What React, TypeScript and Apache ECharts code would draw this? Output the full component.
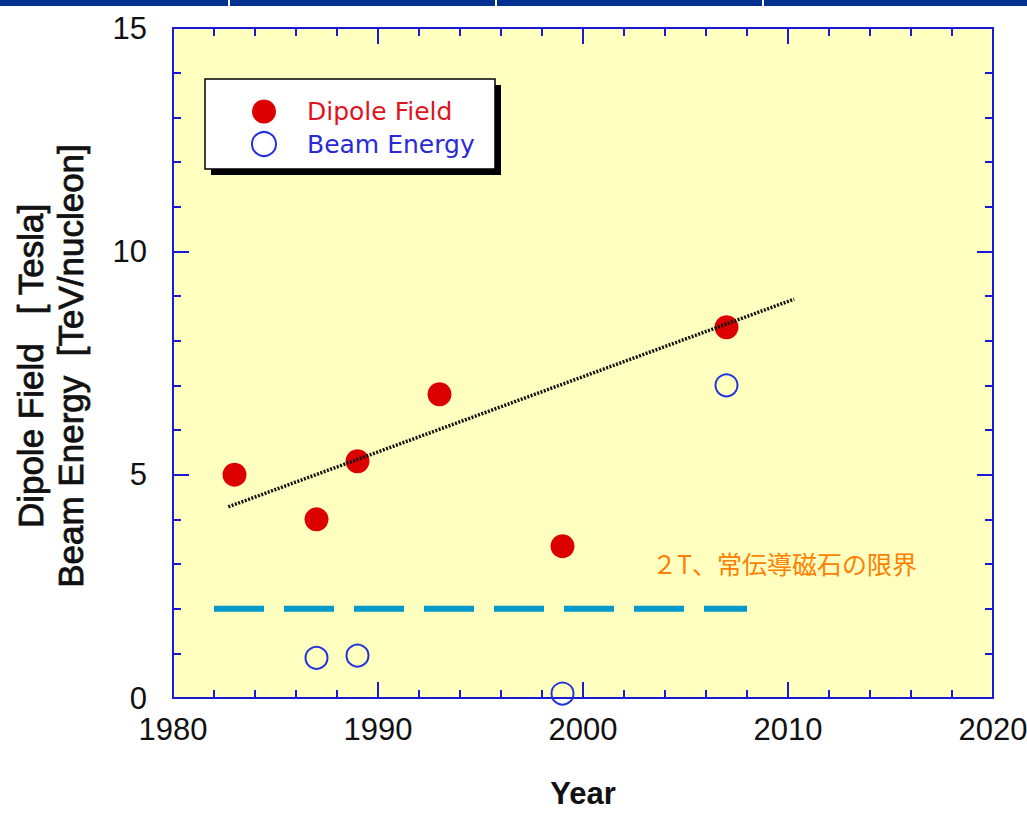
import React, { useEffect, useRef } from "react";
import * as echarts from "echarts";

const dipoleYears = [1983, 1987, 1989, 1993, 1999, 2007];
const dipoleField = [5.0, 4.0, 5.3, 6.8, 3.4, 8.3];
const beamYears = [1987, 1989, 1999, 2007];
const beamEnergy = [0.9, 0.95, 0.1, 7.0];
const trendYears = [1982.7, 2010.3];
const trendValues = [4.28, 8.93];
const limitYears = [1982, 2008];
const limitValues = [2, 2];
const xTicks = { min: 1980, max: 2020, interval: 10 };
const yTicks = { min: 0, max: 15, interval: 5 };
const yTitleLines = ["Dipole Field   [ Tesla]", "Beam Energy  [TeV/nucleon]"];
const annotation = "２T、常伝導磁石の限界";

const AXIS_BLUE = "#1a1ad6";
const LABEL_FONT = "'Liberation Sans', Arial, Helvetica, sans-serif";

function axisCommon(position: string, showLabel: boolean, margin: number) {
  return {
    position,
    axisLine: { show: true, onZero: false, lineStyle: { color: AXIS_BLUE, width: 2 } },
    axisTick: { show: true, inside: true, length: 16, lineStyle: { color: AXIS_BLUE, width: 2 } },
    minorTick: { show: true, splitNumber: 5, length: 8, lineStyle: { color: AXIS_BLUE, width: 2 } },
    splitLine: { show: false },
    minorSplitLine: { show: false },
    axisLabel: {
      show: showLabel,
      fontSize: 31,
      color: "#111",
      fontFamily: LABEL_FONT,
      margin,
      formatter: (v: number) => String(v),
    },
  };
}

export default function App() {
  const ref = useRef<HTMLDivElement>(null);

  useEffect(() => {
    if (!ref.current) return;
    const chart = echarts.init(ref.current, undefined, { renderer: "svg" });
    const zip = (a: number[], b: number[]) => a.map((v, i) => [v, b[i]]);

    const yTitle = (text: string, x: number) => ({
      type: "text",
      x,
      y: 366,
      rotation: Math.PI / 2,
      style: {
        text,
        fontSize: 35,
        fontFamily: LABEL_FONT,
        fill: "#111",
        stroke: "#111",
        lineWidth: 0.8,
        textAlign: "center",
        textVerticalAlign: "middle",
      },
      z: 8,
    });

    const option: any = {
      animation: false,
      backgroundColor: "#ffffff",
      grid: {
        left: 173,
        top: 28,
        width: 820,
        height: 670,
        show: true,
        backgroundColor: "#ffffc0",
        borderWidth: 0,
        containLabel: false,
        outerBoundsMode: "none",
      },
      xAxis: [
        {
          type: "value",
          ...xTicks,
          ...axisCommon("bottom", true, 16),
          name: "Year",
          nameLocation: "middle",
          nameGap: 80,
          nameTextStyle: { fontSize: 31, fontWeight: "bold", color: "#111", fontFamily: LABEL_FONT },
        },
        { type: "value", ...xTicks, ...axisCommon("top", false, 8) },
      ],
      yAxis: [
        { type: "value", ...yTicks, ...axisCommon("left", true, 26) },
        { type: "value", ...yTicks, ...axisCommon("right", false, 8) },
      ],
      legend: {
        orient: "vertical",
        left: 251,
        top: 99,
        padding: 0,
        itemWidth: 24,
        itemHeight: 24,
        itemGap: 7,
        selectedMode: false,
        textStyle: { fontSize: 25, fontFamily: "'DejaVu Sans', sans-serif", padding: [0, 0, 0, 26] },
        data: [
          { name: "Dipole Field", textStyle: { color: "#e0141e" } },
          { name: "Beam Energy", textStyle: { color: "#2a2ad8" } },
        ],
        z: 10,
      },
      graphic: [
        { type: "rect", left: 0, top: 0, shape: { width: 1027, height: 6 }, style: { fill: "#003090" }, z: 20 },
        { type: "rect", left: 228, top: 0, shape: { width: 2, height: 6 }, style: { fill: "#ffffff" }, z: 21 },
        { type: "rect", left: 495, top: 0, shape: { width: 2, height: 6 }, style: { fill: "#ffffff" }, z: 21 },
        { type: "rect", left: 762, top: 0, shape: { width: 2, height: 6 }, style: { fill: "#ffffff" }, z: 21 },
        { type: "rect", x: 211, y: 85, shape: { width: 290, height: 90 }, style: { fill: "#000000" }, z: 5 },
        { type: "rect", x: 205, y: 79, shape: { width: 290, height: 90 }, style: { fill: "#ffffff", stroke: "#000000", lineWidth: 1.5 }, z: 6 },
        yTitle(yTitleLines[0], 30),
        yTitle(yTitleLines[1], 70),
        {
          type: "text",
          x: 652,
          y: 563,
          style: {
            text: annotation,
            fontSize: 25,
            fontFamily: "'Noto Sans CJK JP', sans-serif",
            fill: "#ff7f00",
            textAlign: "left",
            textVerticalAlign: "middle",
          },
          z: 8,
        },
      ],
      series: [
        {
          name: "Dipole Field",
          type: "scatter",
          symbol: "circle",
          symbolSize: 24,
          itemStyle: { color: "#dd0000", opacity: 1 },
          data: zip(dipoleYears, dipoleField),
          z: 3,
        },
        {
          name: "Beam Energy",
          type: "scatter",
          symbol: "circle",
          symbolSize: 22,
          itemStyle: { color: "rgba(255,255,255,0)", borderColor: "#2233dd", borderWidth: 2, opacity: 1 },
          data: zip(beamYears, beamEnergy),
          z: 3,
        },
        {
          name: "trend",
          type: "line",
          symbol: "none",
          silent: true,
          lineStyle: { color: "#111111", width: 3.5, type: [2, 1.5] },
          data: zip(trendYears, trendValues),
          z: 4,
        },
        {
          name: "limit",
          type: "line",
          symbol: "none",
          silent: true,
          lineStyle: { color: "#0099cc", width: 6, type: [50, 20] },
          data: zip(limitYears, limitValues),
          z: 4,
        },
      ],
    };

    chart.setOption(option);
    return () => chart.dispose();
  }, []);

  return (
    <div
      ref={ref}
      style={{ position: "fixed", left: 0, top: 0, width: 1027, height: 815, background: "#fff" }}
    />
  );
}
